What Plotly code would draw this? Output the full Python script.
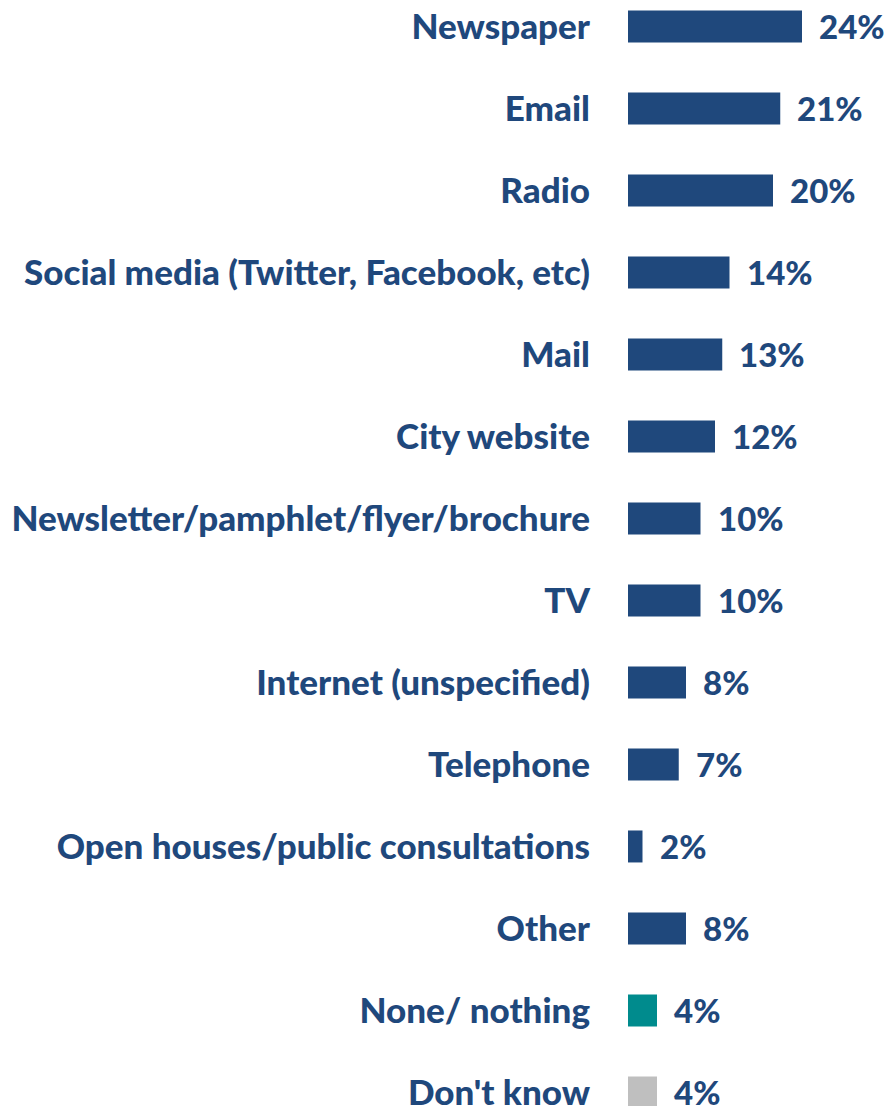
import plotly.graph_objects as go

categories = ["Newspaper", "Email", "Radio", "Social media (Twitter, Facebook, etc)", "Mail",
              "City website", "Newsletter/pamphlet/flyer/brochure", "TV", "Internet (unspecified)",
              "Telephone", "Open houses/public consultations", "Other", "None/ nothing", "Don't know"]
values = [24, 21, 20, 14, 13, 12, 10, 10, 8, 7, 2, 8, 4, 4]
labels = [f"{v}%" for v in values]

BLUE = "#1F487C"
TEAL = "#008B8D"
GRAY = "#BFBFBF"
colors = [BLUE] * 12 + [TEAL, GRAY]
FONT = "Lato"

fig = go.Figure()
fig.add_trace(go.Bar(
    x=values, y=categories, orientation="h", width=0.39,
    marker=dict(color=colors, line=dict(width=0)),
    hoverinfo="skip",
))
for c, v, t in zip(categories, values, labels):
    fig.add_annotation(x=v, y=c, text=t, showarrow=False, xanchor="left", yanchor="middle",
                       xshift=15, font=dict(family=FONT, size=33, color=BLUE, weight=900))

fig.update_layout(
    width=887, height=1106,
    margin=dict(l=628, r=0, t=0, b=0),
    paper_bgcolor="white", plot_bgcolor="white",
    showlegend=False,
    xaxis=dict(range=[0, 259 / 7.25], visible=False, fixedrange=True),
    yaxis=dict(type="category", categoryorder="array", categoryarray=categories,
               range=[13.165, -0.323], showgrid=False, zeroline=False, showline=False,
               ticks="", ticklabelstandoff=37, automargin=False,
               tickfont=dict(family=FONT, size=35, color=BLUE, weight=900)),
)
fig.write_html("out.html", config={"displayModeBar": False},
               post_script="document.body.style.margin='0';document.body.style.overflow='hidden';")
